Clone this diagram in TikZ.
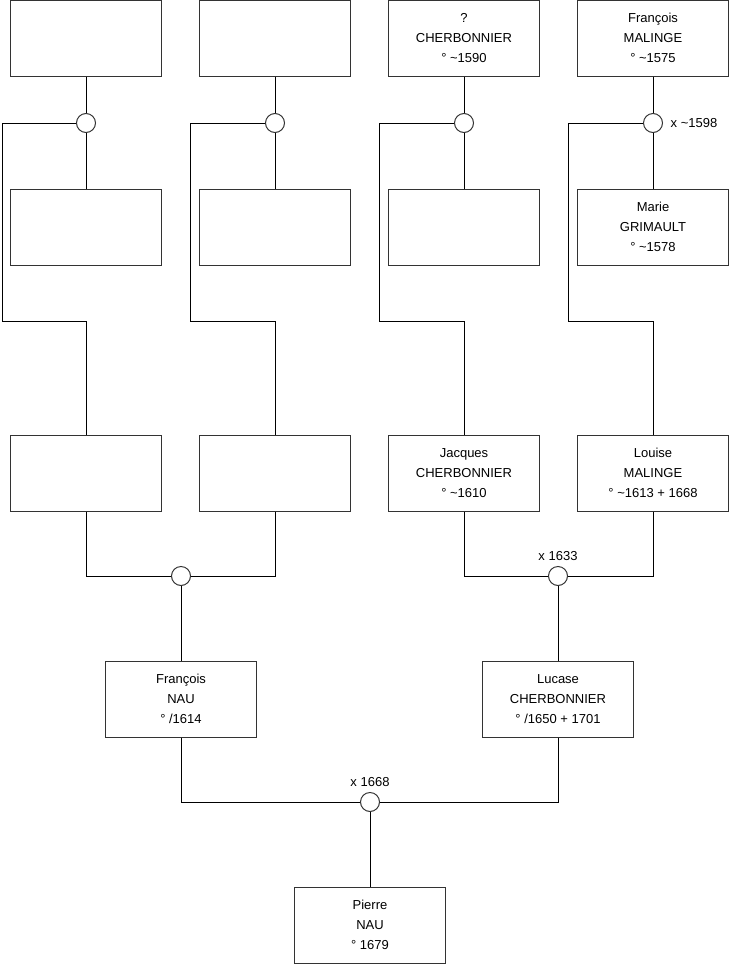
\documentclass[tikz,border=0pt]{standalone}
\usepackage{fontspec}
\setmainfont{Liberation Sans}
\usepackage{tikz}
\usetikzlibrary{
    calc,
    positioning
}
\tikzset{
    person/.style={draw=black!80, line width=1pt, rectangle, minimum width=151pt,
        minimum height=76pt, inner sep=0pt, align=center,
        font=\fontsize{13}{20}\selectfont},
    union/.style={draw=black!80, line width=1pt, circle, fill=white,
        minimum size=19pt, inner sep=0pt},
    note/.style={inner sep=0pt, font=\fontsize{13}{16}\selectfont},
    link/.style={line width=1pt}
}
\newcommand{\tld}{\textasciitilde}

\begin{document}
\begin{tikzpicture}[x=1pt,y=-1pt]
\useasboundingbox (0,0) rectangle (740,975);

\node[person] (a1) at (86,38) {};
\node[person] (a2) at (275,38) {};
\node[person] (a3) at (464,38) {?\\CHERBONNIER\\° \tld1590};
\node[person] (a4) at (653,38) {François\\MALINGE\\° \tld1575};

\node[union] (m1) at (86,123) {};
\node[union] (m2) at (275,123) {};
\node[union] (m3) at (464,123) {};
\node[union] (m4) at (653,123) {};
\node[note, right=7.5pt of m4] (d4) {x \tld1598};

\node[person] (b1) at (86,227) {};
\node[person] (b2) at (275,227) {};
\node[person] (b3) at (464,227) {};
\node[person] (b4) at (653,227) {Marie\\GRIMAULT\\° \tld1578};

\coordinate (k1) at (2,321);
\coordinate (k2) at (190,321);
\coordinate (k3) at (379,321);
\coordinate (k4) at (568,321);

\node[person] (p1) at (86,473) {};
\node[person] (p2) at (275,473) {};
\node[person] (p3) at (464,473) {Jacques\\CHERBONNIER\\° \tld1610};
\node[person] (p4) at (653,473) {Louise\\MALINGE\\° \tld1613 + 1668};

\node[union] (mf) at (181,576) {};
\node[union] (ml) at (558,576) {};
\node[note, above=5pt of ml] (dl) {x 1633};

\node[person] (f) at (181,699) {François\\NAU\\° /1614};
\node[person] (l) at (558,699) {Lucase\\CHERBONNIER\\° /1650 + 1701};

\node[union] (mp) at (370,802) {};
\node[note, above=5pt of mp] (dp) {x 1668};

\node[person] (pierre) at (370,925) {Pierre\\NAU\\° 1679};

\foreach \i in {1,...,4}{
    \draw[link] (a\i) -- (m\i);
    \draw[link] (m\i) -- (b\i);
    \draw[link] (m\i.west) -| (k\i) -| (p\i.north);
}
\draw[link] (p1.south) |- (mf.west);
\draw[link] (p2.south) |- (mf.east);
\draw[link] (p3.south) |- (ml.west);
\draw[link] (p4.south) |- (ml.east);
\draw[link] (mf) -- (f);
\draw[link] (ml) -- (l);
\draw[link] (f.south) |- (mp.west);
\draw[link] (l.south) |- (mp.east);
\draw[link] (mp) -- (pierre);
\end{tikzpicture}
\end{document}
